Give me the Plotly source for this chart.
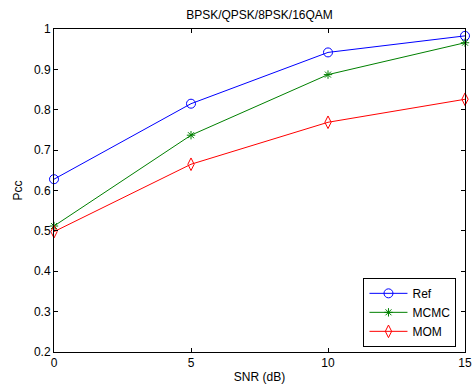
import plotly.graph_objects as go

snr = [0, 5, 10, 15]
ref = [0.628, 0.815, 0.942, 0.983]
mcmc = [0.512, 0.737, 0.887, 0.966]
mom = [0.498, 0.665, 0.769, 0.826]
x_ticks = [0, 5, 10, 15]
y_ticks = [0.2, 0.3, 0.4, 0.5, 0.6, 0.7, 0.8, 0.9, 1.0]
y_labels = ["0.2", "0.3", "0.4", "0.5", "0.6", "0.7", "0.8", "0.9", "1"]

font = "Liberation Sans, Arial, sans-serif"

fig = go.Figure()
series = [
    ("Ref", ref, "#0000FF", "circle-open", 9),
    ("MCMC", mcmc, "#008000", "asterisk-open", 7),
    ("MOM", mom, "#FF0000", "diamond-tall-open", 9),
]
for name, vals, col, sym, sz in series:
    fig.add_trace(go.Scatter(
        x=snr, y=vals, name=name, mode="lines+markers",
        line=dict(color=col, width=1),
        marker=dict(symbol=sym, size=sz, color=col, line=dict(color=col, width=1)),
        cliponaxis=False,
    ))

fig.update_layout(
    width=472, height=385,
    margin=dict(l=54, r=7, t=29, b=33, autoexpand=False),
    paper_bgcolor="white", plot_bgcolor="white",
    font=dict(family=font, size=12, color="black"),
    title=dict(text="BPSK/QPSK/8PSK/16QAM", x=0.5, xref="paper", y=0.962, yref="container",
               xanchor="center", yanchor="middle", font=dict(size=12)),
    xaxis=dict(range=[0, 15], tickvals=x_ticks, ticks="inside", ticklen=4, tickcolor="black",
               showline=True, linecolor="black", linewidth=1, mirror="ticks", showgrid=False,
               zeroline=False, automargin=False,
               title=dict(text="SNR (dB)", standoff=3, font=dict(size=12))),
    yaxis=dict(range=[0.2, 1.0], tickvals=y_ticks, ticktext=y_labels, ticks="inside", ticklen=4,
               tickcolor="black", showline=True, linecolor="black", linewidth=1, mirror="ticks",
               showgrid=False, zeroline=False, automargin=False,
               title=dict(text="Pcc", standoff=8, font=dict(size=12))),
    legend=dict(x=0.753, y=0.016, xanchor="left", yanchor="bottom", bgcolor="white",
                bordercolor="black", borderwidth=1, font=dict(size=12),
                itemwidth=38, tracegroupgap=0),
    showlegend=True,
)

fig.write_html("out.html")
